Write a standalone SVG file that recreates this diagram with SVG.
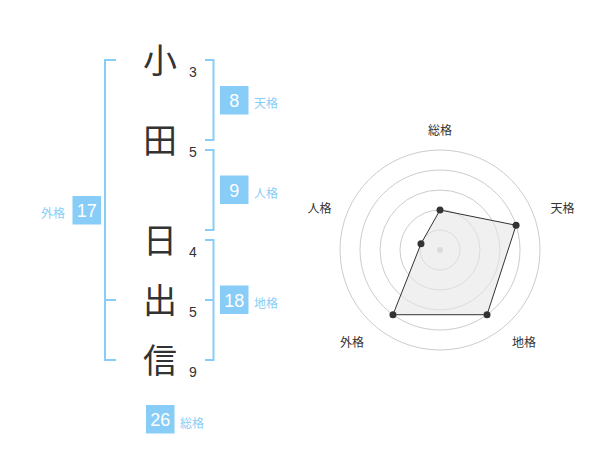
<svg xmlns="http://www.w3.org/2000/svg" width="600" height="470" viewBox="0 0 600 470">
<style>
.kan{font-family:"Noto Sans CJK JP","Noto Sans CJK SC",sans-serif;font-size:34px;fill:#333;text-anchor:middle}
.num{font-family:"Liberation Sans",Arial,sans-serif;font-size:14px;fill:#333}
.box{fill:#88cdf7}
.bnum{font-family:"Liberation Sans",Arial,sans-serif;font-size:18px;fill:#fff;text-anchor:middle}
.blab{font-family:"Noto Sans CJK JP","Noto Sans CJK SC",sans-serif;font-size:12px;fill:#88cdf7}
.br{fill:none;stroke:#88cdf7;stroke-width:2}
.ring{fill:none;stroke:#cccccc;stroke-width:1}
.rlab{font-family:"Noto Sans CJK JP","Noto Sans CJK SC",sans-serif;font-size:12px;fill:#333;text-anchor:middle}
.dot{fill:#333}
</style>
<rect width="600" height="470" fill="#fff"/>
<g id="connectors">
<path class="br" d="M116,60 H105 V360 H116 M105,300 H116"/>
<path class="br" d="M205,60 H213.5 V140 H205"/>
<path class="br" d="M205,150 H213.5 V230 H205"/>
<path class="br" d="M205,240 H213.5 V360 H205 M205,300 H213.5"/>
</g>
<g id="chars">
<text class="kan" x="160" y="73">小</text>
<text class="kan" x="160" y="153">田</text>
<text class="kan" x="160" y="253">日</text>
<text class="kan" x="160" y="313">出</text>
<text class="kan" x="160" y="373">信</text>
<text class="num" x="189" y="77">3</text>
<text class="num" x="189" y="157">5</text>
<text class="num" x="189" y="257">4</text>
<text class="num" x="189" y="317">5</text>
<text class="num" x="189" y="377">9</text>
</g>
<g id="tenkaku">
<rect class="box" x="220" y="86" width="28.5" height="28.5"/>
<text class="bnum" x="234.3" y="107">8</text>
<text class="blab" x="254" y="108">天格</text>
</g>
<g id="jinkaku">
<rect class="box" x="220" y="175.5" width="28.5" height="28.5"/>
<text class="bnum" x="234.3" y="196.5">9</text>
<text class="blab" x="254" y="198">人格</text>
</g>
<g id="chikaku">
<rect class="box" x="220" y="285.5" width="28.5" height="28.5"/>
<text class="bnum" x="234.3" y="306.5">18</text>
<text class="blab" x="254" y="308">地格</text>
</g>
<g id="gaikaku">
<rect class="box" x="72.5" y="196" width="28.5" height="28.5"/>
<text class="bnum" x="86.8" y="217">17</text>
<text class="blab" x="41" y="218">外格</text>
</g>
<g id="soukaku">
<rect class="box" x="146" y="405" width="28.5" height="28.5"/>
<text class="bnum" x="160.3" y="426">26</text>
<text class="blab" x="180" y="428">総格</text>
</g>
<g id="radar">
<circle class="ring" cx="440" cy="250" r="20"/>
<circle class="ring" cx="440" cy="250" r="40"/>
<circle class="ring" cx="440" cy="250" r="60"/>
<circle class="ring" cx="440" cy="250" r="80"/>
<circle class="ring" cx="440" cy="250" r="100"/>
<circle cx="440" cy="250" r="3" fill="#cccccc"/>
<polygon points="440,210 516.08,225.28 487.02,314.72 392.98,314.72 420.98,243.82" fill="#e6e6e6" fill-opacity="0.6" stroke="#333" stroke-width="1"/>
<circle class="dot" cx="440" cy="210" r="3.5"/>
<circle class="dot" cx="516.08" cy="225.28" r="3.5"/>
<circle class="dot" cx="487.02" cy="314.72" r="3.5"/>
<circle class="dot" cx="392.98" cy="314.72" r="3.5"/>
<circle class="dot" cx="420.98" cy="243.82" r="3.5"/>
<text class="rlab" x="440" y="135">総格</text>
<text class="rlab" x="562.5" y="213">天格</text>
<text class="rlab" x="524" y="347">地格</text>
<text class="rlab" x="352" y="347">外格</text>
<text class="rlab" x="319.5" y="213">人格</text>
</g>
</svg>
